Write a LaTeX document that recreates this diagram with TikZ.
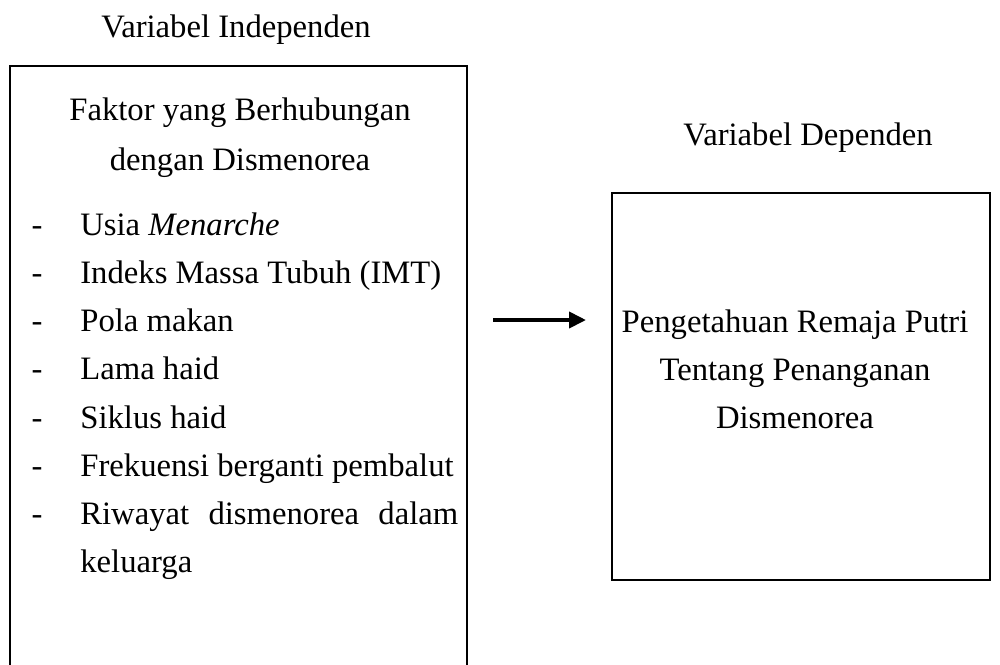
\documentclass[tikz,border=0pt]{standalone}
\usepackage{fontspec}
\setmainfont{Liberation Serif}
\usetikzlibrary{arrows.meta}

\begin{document}
\begin{tikzpicture}[x=0.02cm, y=-0.02cm,
  every node/.style={inner sep=0pt, font=\fontsize{18.6}{27}\selectfont},
  frame/.style={line width=1.1pt},
  item/.style={anchor=base west},
  line/.style={anchor=base}]

\def\xL{10}   
\def\xR{467}  
\def\xA{612}  
\def\xB{990}  
\def\dy{48.3} 

\useasboundingbox (0,0) rectangle (1000,664);
\clip (0,0) rectangle (1000,664);

\draw[frame] (\xL,700) -- (\xL,66) -- (\xR,66) -- (\xR,700);
\draw[frame] (\xA,193) rectangle (\xB,580);

\node[line] (indep) at (236,37)  {Variabel Independen};
\node[line] (dep)   at (808,145) {Variabel Dependen};

\node[line] (judul1) at (240,120) {Faktor yang Berhubungan};
\node[line] (judul2) at (240,170) {dengan Dismenorea};

\foreach \t [count=\i] in {Usia \textit{Menarche},
                           Indeks Massa Tubuh (IMT),
                           Pola makan,
                           Lama haid,
                           Siklus haid,
                           Frekuensi berganti pembalut}{
  \node[line] (d\i) at (37,235+\dy*\i-\dy) {-};
  \node[item] (f\i) at (80,235+\dy*\i-\dy) {\t};
}
\node[line] (d7) at (37,235+\dy*6) {-};
\node[item, text width=7.56cm, align=left] (f7) at (80,235+\dy*6)
  {Riwayat\hfill dismenorea\hfill dalam\\keluarga};

\node[line] (y1) at (795,332) {Pengetahuan Remaja Putri};
\node[line] (y2) at (795,380) {Tentang Penanganan};
\node[line] (y3) at (795,428) {Dismenorea};

\coordinate (aS) at (493,320);
\coordinate (aE) at (586,320);
\draw[line width=2.2pt, -{Triangle[length=0.34cm, width=0.32cm]}] (aS) -- (aE);
\end{tikzpicture}
\end{document}
